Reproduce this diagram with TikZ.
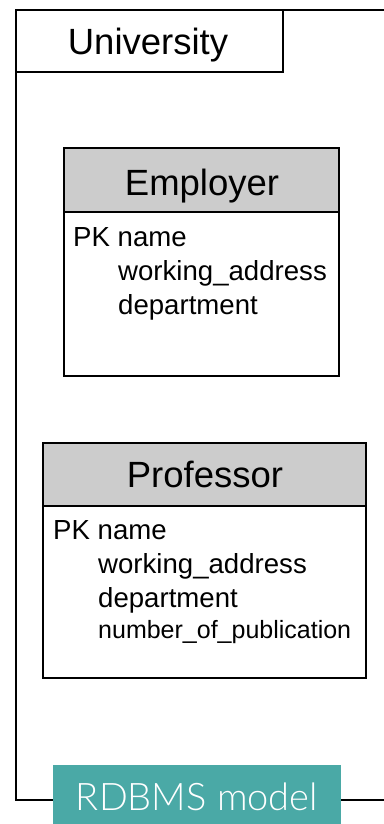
\documentclass[tikz,border=0pt]{standalone}
\usepackage{fontspec}
\setmainfont{Liberation Sans}
\newfontfamily\latofont{Lato Light}
\definecolor{hdrgray}{HTML}{CCCCCC}
\definecolor{tealbox}{HTML}{4AA9A6}
\tikzset{
  frameline/.style={line width=2.8pt, line cap=rect},
  boxline/.style={draw=black, line width=2.4pt},
  title/.style={font=\fontsize{36.5}{40}\selectfont, inner sep=0pt, anchor=base},
  attr/.style={font=\fontsize{27.6}{30}\selectfont, inner sep=0pt, anchor=base west},
  attrsmall/.style={font=\fontsize{25}{28}\selectfont, inner sep=0pt, anchor=base west},
}
\begin{document}
\begin{tikzpicture}[x=1pt,y=-1pt]
\useasboundingbox (0,0) rectangle (383,824);
% University frame
\coordinate (ftr) at (383,10);
\coordinate (ftl) at (16,10);
\coordinate (fbl) at (16,800);
\coordinate (fbr) at (383,800);
\draw[frameline] (ftr) -- (ftl) -- (fbl) -- (fbr);
\draw[boxline, fill=white] (16,10) rectangle (283,72);
\node[title] (uni) at (148,55) {University};
% Employer
\draw[boxline, fill=hdrgray] (64,148) rectangle (339,212);
\draw[boxline, fill=white] (64,212) rectangle (339,376);
\node[title] (emp) at (202,195) {Employer};
\node[attr] (e1) at (73,246) {PK name};
\node[attr] (e2) at (118,280) {working\_address};
\node[attr] (e3) at (118,314) {department};
% Professor
\draw[boxline, fill=hdrgray] (43,443) rectangle (366,506);
\draw[boxline, fill=white] (43,506) rectangle (366,678);
\node[title] (prof) at (205,487) {Professor};
\node[attr] (p1) at (53,539) {PK name};
\node[attr] (p2) at (98,573) {working\_address};
\node[attr] (p3) at (98,607) {department};
\node[attrsmall] (p4) at (98,638) {number\_of\_publication};
% RDBMS label
\fill[tealbox] (53,765) rectangle (341,824);
\node[font=\latofont\fontsize{38}{40}\selectfont, text=white, inner sep=0pt] (rdb) at (197,797) {RDBMS model};
\end{tikzpicture}
\end{document}
